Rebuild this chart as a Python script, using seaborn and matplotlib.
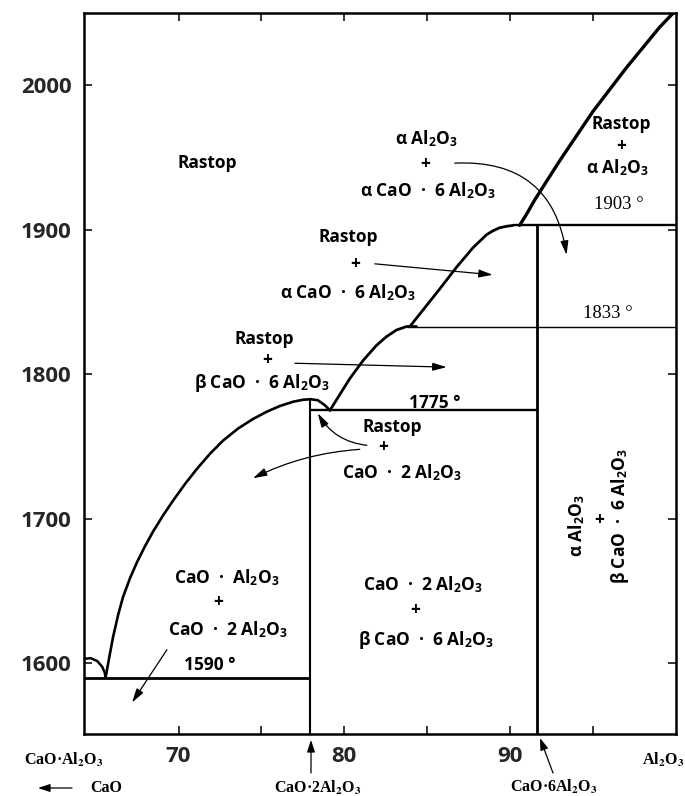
import matplotlib
matplotlib.use("Agg")
import matplotlib.pyplot as plt
import seaborn as sns

sns.set_theme(style="ticks")
plt.rcParams["font.family"] = ["Open Sans", "DejaVu Sans"]
plt.rcParams["mathtext.fontset"] = "custom"
plt.rcParams["mathtext.rm"] = "Open Sans"
plt.rcParams["mathtext.bf"] = "Open Sans:bold"
plt.rcParams["mathtext.it"] = "Open Sans:italic"

# --- phase boundaries (wt% Al2O3, temperature in °C) ---
# liquidus of CaO·Al2O3 down to the eutectic
ca_liq_x = [64.3, 64.7, 65.1, 65.4, 65.55, 65.6]
ca_liq_t = [1603, 1603.5, 1601.5, 1597.5, 1593.5, 1590]
# liquidus of CaO·2Al2O3 from the eutectic over its maximum to the peritectic
ca2_liq_x = [65.6, 65.87, 66.05, 66.37, 66.66, 67.08, 67.5, 67.98, 68.46,
             69.08, 69.67, 70.39, 71.11, 71.9, 72.68, 73.6, 74.49, 75.31,
             76.11, 76.92, 77.5, 77.95, 78.4, 78.83, 79.13]
ca2_liq_t = [1590, 1607, 1618, 1634, 1646, 1659, 1670, 1681, 1691,
             1702.5, 1712.5, 1724, 1734.5, 1745, 1754, 1762.5, 1769, 1774,
             1778, 1781, 1782.3, 1782.7, 1782, 1778.5, 1775]
# liquidus of beta CaO·6Al2O3
bca6_liq_x = [79.13, 80.33, 81.13, 81.94, 82.54, 83.14, 83.75, 84.35]
bca6_liq_t = [1775, 1797, 1809.5, 1820, 1826, 1830.6, 1833, 1833]
# liquidus of alpha CaO·6Al2O3
aca6_liq_x = [83.95, 85.75, 86.76, 87.76, 88.57, 88.95, 89.37, 89.79, 90.17]
aca6_liq_t = [1833, 1859, 1874, 1887.6, 1896.5, 1899.2, 1901.4, 1902.4, 1903]
# liquidus of alpha Al2O3
al_liq_x = [90.57, 91.0, 91.5, 92.0, 93.0, 94.0, 95.0, 96.0, 97.0,
            98.0, 99.0, 100.0]
al_liq_t = [1903, 1911, 1921, 1930, 1948, 1965, 1982, 1997, 2012,
            2026, 2040, 2052]

# invariant (horizontal) lines: temperature, start, end
inv_t = [1590, 1775, 1833, 1903]
inv_x0 = [64.3, 77.95, 83.75, 90.17]
inv_x1 = [77.95, 91.6, 100.0, 100.0]
inv_lw = [2.0, 1.7, 1.0, 1.7]

# compound lines: composition and top temperature
comp_x = [77.95, 91.6]
comp_top = [1782.7, 1903]
comp_lw = [1.5, 2.0]

x_ticks = [70, 75, 80, 85, 90, 95]
x_tick_labels = ["70", "", "80", "", "90", ""]
y_ticks = [1600, 1700, 1800, 1900, 2000]
y_tick_labels = ["1600", "1700", "1800", "1900", "2000"]

W, H = 685, 796
fig = plt.figure(figsize=(W / 100, H / 100), dpi=100)
ax = fig.add_axes([84 / W, 1 - 734 / H, (676 - 84) / W, (734 - 13) / H])
ax.set_xlim(64.3, 100)
ax.set_ylim(1551, 2050)

for xs, ts, lw in [(ca_liq_x, ca_liq_t, 1.8), (ca2_liq_x, ca2_liq_t, 1.9),
                   (bca6_liq_x, bca6_liq_t, 2.0), (aca6_liq_x, aca6_liq_t, 2.0),
                   (al_liq_x, al_liq_t, 2.4)]:
    sns.lineplot(x=xs, y=ts, sort=False, estimator=None, color="black",
                 lw=lw, ax=ax)
for line in ax.get_lines():
    line.set_solid_joinstyle("round")
    line.set_solid_capstyle("round")

for t, x0, x1, lw in zip(inv_t, inv_x0, inv_x1, inv_lw):
    ax.hlines(t, x0, x1, color="black", lw=lw)
for x, top, lw in zip(comp_x, comp_top, comp_lw):
    ax.vlines(x, 1551, top, color="black", lw=lw)

ax.set_xticks(x_ticks)
ax.set_xticklabels(x_tick_labels)
ax.set_yticks(y_ticks)
ax.set_yticklabels(y_tick_labels)
ax.tick_params(direction="in", length=6, width=1.3, top=True, right=True,
               labelsize=16, pad=9)
for lbl in ax.get_xticklabels() + ax.get_yticklabels():
    lbl.set_fontweight("bold")
for sp in ax.spines.values():
    sp.set_linewidth(1.8)
    sp.set_color("black")
ax.set_xlabel("")
ax.set_ylabel("")

AL = r"Al$_\mathbf{2}$O$_\mathbf{3}$"
FS = 12.5


def lab(x, y, s, **kw):
    kw.setdefault("fontsize", FS)
    ax.text(x, y, s, ha="center", va="center", fontweight="bold",
            color="black", **kw)


def serif(x, y, s, **kw):
    ax.text(x, y, s, ha="center", va="center", family="Liberation Serif",
            fontsize=13.5, color="black", **kw)


def arrow(start, end, rad=0.0):
    ax.annotate("", xy=end, xytext=start,
                arrowprops=dict(arrowstyle="-|>,head_length=0.7,head_width=0.2",
                                color="black", lw=0.9, shrinkA=0, shrinkB=0,
                                connectionstyle=f"arc3,rad={rad}"))


# liquid field
lab(71.72, 1946, "Rastop")
# Al2O3 + CA6 field
lab(84.97, 1962.7, "α " + AL)
lab(84.85, 1945.4, "+")
lab(85.03, 1926.8, "α CaO  ·  6 " + AL)
arrow((86.66, 1946.1), (93.4, 1882.6), rad=-0.45)
# liquid + Al2O3
lab(96.72, 1973.2, "Rastop")
lab(96.72, 1957.8, "+")
lab(96.48, 1942.7, "α " + AL)
serif(96.54, 1917.8, "1903 °")
# liquid + alpha CA6
lab(80.21, 1895, "Rastop")
lab(80.63, 1876.4, "+")
lab(80.21, 1856.4, "α CaO  ·  6 " + AL)
arrow((81.84, 1876.4), (88.95, 1868.8))
serif(95.87, 1842, "1833 °")
# liquid + beta CA6
lab(75.15, 1824.6, "Rastop")
lab(75.33, 1809.5, "+")
lab(75.03, 1793.6, "β CaO  ·  6 " + AL)
arrow((77.02, 1807.6), (86.17, 1804.9))
lab(85.45, 1780.4, "1775 °")
# liquid + CA2
lab(82.86, 1763.2, "Rastop")
lab(82.32, 1749.4, "+")
lab(83.46, 1732.2, "CaO  ·  2 " + AL)
arrow((81.36, 1750.8), (78.40, 1772.9), rad=-0.25)
arrow((80.93, 1748), (74.49, 1728), rad=0.1)
# CA + CA2
lab(72.92, 1659, "CaO  ·  " + AL)
lab(72.38, 1642.4, "+")
lab(72.98, 1623.1, "CaO  ·  2 " + AL)
lab(71.9, 1599, "1590 °")
arrow((69.3, 1609.3), (67.2, 1572.8))
# CA2 + beta CA6
lab(84.73, 1654.2, "CaO  ·  2 " + AL)
lab(84.25, 1636.9, "+")
lab(84.91, 1616.2, "β CaO  ·  6 " + AL)
# Al2O3 + beta CA6
lab(94.01, 1695.6, "α " + AL, rotation=90)
lab(95.39, 1699, "+")
lab(96.6, 1701.8, "β CaO  ·  6 " + AL, rotation=90)

# composition labels under the axis
SAL = r"Al$_\mathbf{2}$O$_\mathbf{3}$"


def flab(px, py, s, fs=11.5):
    fig.text(px / W, 1 - py / H, s, ha="center", va="center",
             family="Liberation Serif", fontweight="bold", fontsize=fs,
             math_fontfamily="stix", color="black")


def farrow(p0, p1):
    ax.annotate("", xy=(p1[0] / W, 1 - p1[1] / H),
                xytext=(p0[0] / W, 1 - p0[1] / H),
                xycoords="figure fraction", textcoords="figure fraction",
                arrowprops=dict(arrowstyle="-|>,head_length=0.6,head_width=0.2",
                                color="black", lw=0.9, shrinkA=0, shrinkB=0))


flab(64, 760, "CaO·" + SAL)
flab(106, 788, "CaO")
farrow((72, 788), (38, 788))
flab(318, 788, "CaO·2" + SAL)
farrow((311, 773), (311, 740))
flab(554, 787, "CaO·6" + SAL)
farrow((553, 773), (540, 738))
flab(663, 760, SAL)

fig.savefig("out.png", dpi=100, facecolor="white")
